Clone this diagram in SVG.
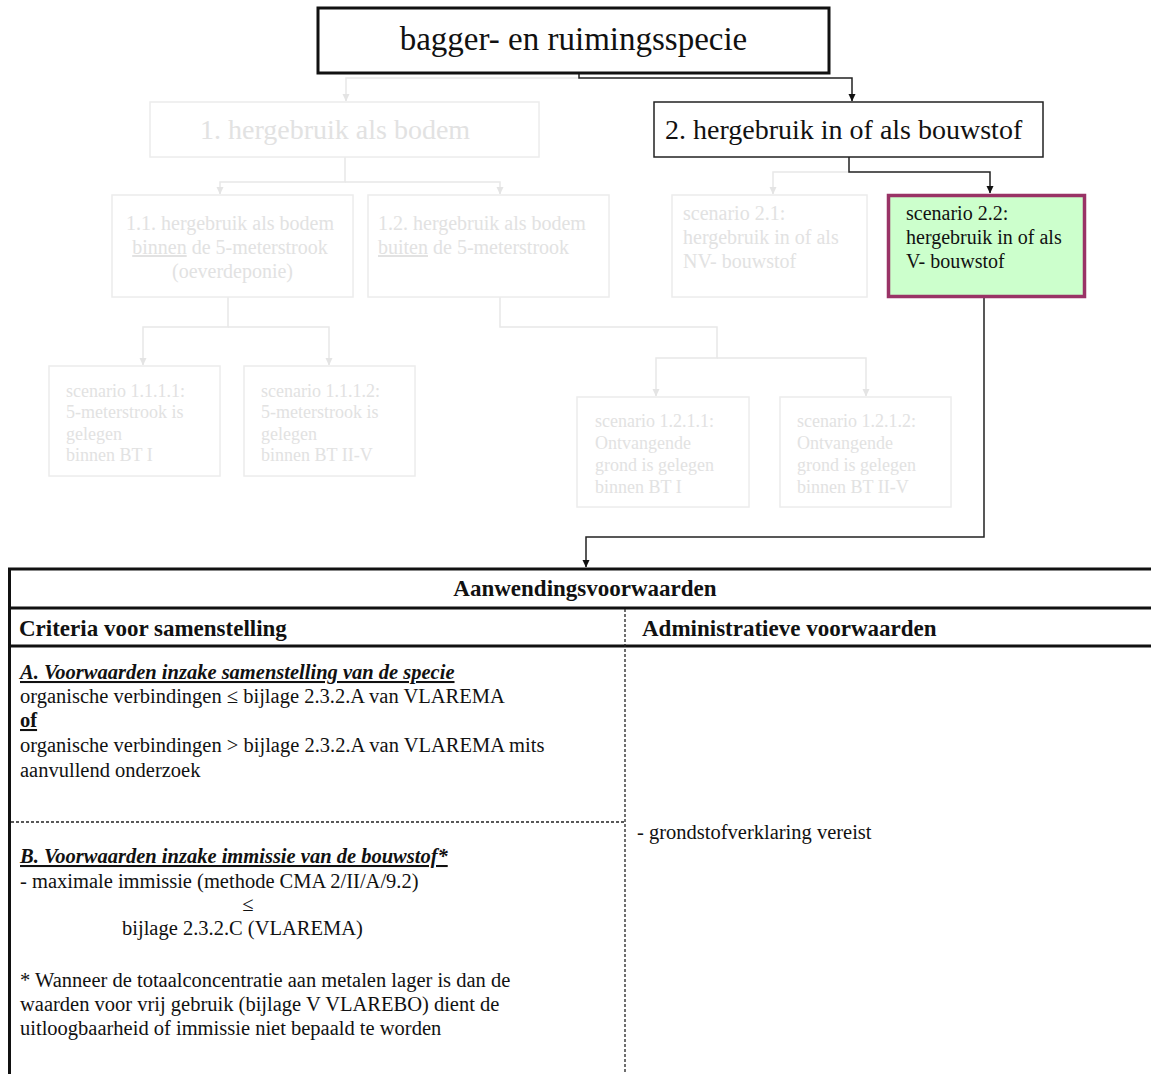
<svg xmlns="http://www.w3.org/2000/svg" width="1151" height="1074" viewBox="0 0 1151 1074">
  <style>
    text { font-family: "Liberation Serif", "Times New Roman", serif; }
    .box { fill: #ffffff; stroke: #ececec; stroke-width: 1.5; }
    .faded { fill: #e2e2e2; }
    .ink { fill: #111111; }
    .t28 { font-size: 28px; }
    .t20 { font-size: 20px; }
    .t18 { font-size: 18px; }
    .link { fill: none; stroke: #222222; stroke-width: 1.5; }
    .link-faded { fill: none; stroke: #e8e8e8; stroke-width: 1.5; }
    .rule { stroke: #111111; stroke-width: 3; }
    .dash { stroke: #222222; stroke-width: 1.3; stroke-dasharray: 3 2; }
    .hd { font-size: 23px; font-weight: bold; fill: #111111; }
    .body { font-size: 20.5px; fill: #111111; }
    .sub { font-size: 20.5px; font-weight: bold; font-style: italic; text-decoration: underline; fill: #111111; }
    .u { text-decoration: underline; }
  </style>
  <defs>
    <marker id="arrow" markerWidth="8" markerHeight="8" refX="7" refY="4" orient="auto" markerUnits="userSpaceOnUse">
      <path d="M0,0.5 L7.5,4 L0,7.5 z" fill="#111111"/>
    </marker>
    <marker id="arrow-faded" markerWidth="8" markerHeight="8" refX="7" refY="4" orient="auto" markerUnits="userSpaceOnUse">
      <path d="M0,0.5 L7.5,4 L0,7.5 z" fill="#e4e4e4"/>
    </marker>
  </defs>

  <!-- connectors -->
  <g id="connectors">
    <path class="link-faded" d="M579,78 H346 V101" marker-end="url(#arrow-faded)"/>
    <path class="link" d="M579,73 V78 H852 V101" marker-end="url(#arrow)"/>
    <path class="link-faded" d="M345,157 V182 H220 V194" marker-end="url(#arrow-faded)"/>
    <path class="link-faded" d="M345,182 H500 V194" marker-end="url(#arrow-faded)"/>
    <path class="link-faded" d="M849,172 H773 V194" marker-end="url(#arrow-faded)"/>
    <path class="link" d="M849,157 V172 H990 V193" marker-end="url(#arrow)"/>
    <path class="link-faded" d="M228,297 V327 H143 V365" marker-end="url(#arrow-faded)"/>
    <path class="link-faded" d="M228,327 H329 V365" marker-end="url(#arrow-faded)"/>
    <path class="link-faded" d="M500,297 V327 H717 V358 H656 V396" marker-end="url(#arrow-faded)"/>
    <path class="link-faded" d="M717,358 H866 V396" marker-end="url(#arrow-faded)"/>
    <path class="link" d="M984,298 V537 H586 V567" marker-end="url(#arrow)"/>
  </g>

  <!-- root -->
  <g id="node-root">
    <rect x="318" y="8" width="511" height="65" fill="#ffffff" stroke="#111111" stroke-width="3"/>
    <text x="573.5" y="50" text-anchor="middle" class="ink" font-size="33">bagger- en ruimingsspecie</text>
  </g>

  <!-- level 1 -->
  <g id="node-1">
    <rect class="box" x="150" y="102" width="389" height="55"/>
    <text x="200" y="139" class="faded t28">1. hergebruik als bodem</text>
  </g>
  <g id="node-2">
    <rect x="654" y="102" width="389" height="55" fill="#ffffff" stroke="#222222" stroke-width="1.5"/>
    <text x="665" y="139" class="ink t28">2. hergebruik in of als bouwstof</text>
  </g>

  <!-- level 2 -->
  <g id="node-1-1">
    <rect class="box" x="112" y="195" width="241" height="102"/>
    <text text-anchor="middle" class="faded t20">
      <tspan x="232.5" y="230">1.1. hergebruik als bodem</tspan>
      <tspan x="232.5" y="254"><tspan class="u">binnen</tspan> de 5-meterstrook</tspan>
      <tspan x="232.5" y="278">(oeverdeponie)</tspan>
    </text>
  </g>
  <g id="node-1-2">
    <rect class="box" x="368" y="195" width="241" height="102"/>
    <text class="faded t20">
      <tspan x="378" y="230">1.2. hergebruik als bodem</tspan>
      <tspan x="378" y="254"><tspan class="u">buiten</tspan> de 5-meterstrook</tspan>
    </text>
  </g>
  <g id="node-2-1">
    <rect class="box" x="672" y="195" width="195" height="102"/>
    <text class="faded t20">
      <tspan x="683" y="220">scenario 2.1:</tspan>
      <tspan x="683" y="244">hergebruik in of als</tspan>
      <tspan x="683" y="268">NV- bouwstof</tspan>
    </text>
  </g>
  <g id="node-2-2">
    <rect x="888.5" y="195.5" width="196" height="101" fill="#ccffcc" stroke="#993366" stroke-width="3.5"/>
    <text class="ink t20">
      <tspan x="906" y="220">scenario 2.2:</tspan>
      <tspan x="906" y="244">hergebruik in of als</tspan>
      <tspan x="906" y="268">V- bouwstof</tspan>
    </text>
  </g>

  <!-- level 3 -->
  <g id="node-1-1-1-1">
    <rect class="box" x="49" y="366" width="171" height="110"/>
    <text class="faded t18">
      <tspan x="66" y="397">scenario 1.1.1.1:</tspan>
      <tspan x="66" y="418">5-meterstrook is</tspan>
      <tspan x="66" y="440">gelegen</tspan>
      <tspan x="66" y="461">binnen BT I</tspan>
    </text>
  </g>
  <g id="node-1-1-1-2">
    <rect class="box" x="244" y="366" width="171" height="110"/>
    <text class="faded t18">
      <tspan x="261" y="397">scenario 1.1.1.2:</tspan>
      <tspan x="261" y="418">5-meterstrook is</tspan>
      <tspan x="261" y="440">gelegen</tspan>
      <tspan x="261" y="461">binnen BT II-V</tspan>
    </text>
  </g>
  <g id="node-1-2-1-1">
    <rect class="box" x="577" y="397" width="172" height="110"/>
    <text class="faded t18">
      <tspan x="595" y="427">scenario 1.2.1.1:</tspan>
      <tspan x="595" y="449">Ontvangende</tspan>
      <tspan x="595" y="471">grond is gelegen</tspan>
      <tspan x="595" y="493">binnen BT I</tspan>
    </text>
  </g>
  <g id="node-1-2-1-2">
    <rect class="box" x="780" y="397" width="171" height="110"/>
    <text class="faded t18">
      <tspan x="797" y="427">scenario 1.2.1.2:</tspan>
      <tspan x="797" y="449">Ontvangende</tspan>
      <tspan x="797" y="471">grond is gelegen</tspan>
      <tspan x="797" y="493">binnen BT II-V</tspan>
    </text>
  </g>

  <!-- conditions table -->
  <g id="node-conditions">
    <line class="rule" x1="8" y1="569" x2="1151" y2="569"/>
    <line class="rule" x1="9.5" y1="568" x2="9.5" y2="1074"/>
    <line class="rule" x1="8" y1="608" x2="1151" y2="608" stroke-width="2.5"/>
    <line class="rule" x1="8" y1="646" x2="1151" y2="646" stroke-width="2.5"/>
    <line class="dash" x1="625" y1="609" x2="625" y2="1074"/>
    <line class="dash" x1="11" y1="822" x2="625" y2="822"/>

    <text x="585" y="596" text-anchor="middle" class="hd">Aanwendingsvoorwaarden</text>
    <text x="19" y="636" class="hd">Criteria voor samenstelling</text>
    <text x="642" y="636" class="hd">Administratieve voorwaarden</text>

    <text x="20" y="679" class="sub">A. Voorwaarden inzake samenstelling van de specie</text>
    <text x="20" y="703" class="body">organische verbindingen ≤ bijlage 2.3.2.A van VLAREMA</text>
    <text x="20" y="727" class="body" font-weight="bold" text-decoration="underline">of</text>
    <text x="20" y="752" class="body">organische verbindingen &gt; bijlage 2.3.2.A van VLAREMA mits</text>
    <text x="20" y="777" class="body">aanvullend onderzoek</text>

    <text x="20" y="863" class="sub">B. Voorwaarden inzake immissie van de bouwstof*</text>
    <text x="20" y="888" class="body">- maximale immissie (methode CMA 2/II/A/9.2)</text>
    <text x="248" y="911" text-anchor="middle" class="body">≤</text>
    <text x="122" y="935" class="body">bijlage 2.3.2.C (VLAREMA)</text>
    <text x="20" y="987" class="body">* Wanneer de totaalconcentratie aan metalen lager is dan de</text>
    <text x="20" y="1011" class="body">waarden voor vrij gebruik (bijlage V VLAREBO) dient de</text>
    <text x="20" y="1035" class="body">uitloogbaarheid of immissie niet bepaald te worden</text>

    <text x="637" y="839" class="body">- grondstofverklaring vereist</text>
  </g>
</svg>
